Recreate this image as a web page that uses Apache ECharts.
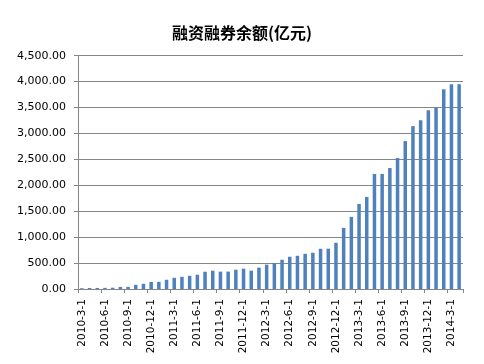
<!DOCTYPE html>
<html>
<head>
<meta charset="utf-8">
<script src="https://cdn.jsdelivr.net/npm/echarts@6/dist/echarts.min.js"></script>
<style>
html,body{margin:0;padding:0;background:#fff;}
#c{width:484px;height:364px;}
</style>
</head>
<body>
<div id="c"></div>
<script>
var titleText = '融资融券余额(亿元)';
var categories = [
  '2010-3-1','2010-4-1','2010-5-1','2010-6-1','2010-7-1','2010-8-1','2010-9-1','2010-10-1','2010-11-1','2010-12-1',
  '2011-1-1','2011-2-1','2011-3-1','2011-4-1','2011-5-1','2011-6-1','2011-7-1','2011-8-1','2011-9-1','2011-10-1','2011-11-1','2011-12-1',
  '2012-1-1','2012-2-1','2012-3-1','2012-4-1','2012-5-1','2012-6-1','2012-7-1','2012-8-1','2012-9-1','2012-10-1','2012-11-1','2012-12-1',
  '2013-1-1','2013-2-1','2013-3-1','2013-4-1','2013-5-1','2013-6-1','2013-7-1','2013-8-1','2013-9-1','2013-10-1','2013-11-1','2013-12-1',
  '2014-1-1','2014-2-1','2014-3-1','2014-4-1'
];
var balance = [
  15,20,20,22,25,40,42,80,100,135,
  138,178,216,235,255,275,333,353,335,336,372,392,
  354,412,470,497,564,622,641,679,699,776,778,891,
  1179,1391,1641,1776,2218,2220,2333,2526,2853,3141,3256,3449,
  3494,3853,3949,3950
];
var yMin = 0, yMax = 4500, yStep = 500;

var chart = echarts.init(document.getElementById('c'), null, {renderer:'canvas'});
var gray = '#868686';
chart.setOption({
  animation: false,
  title: {
    text: titleText,
    left: 'center',
    top: 20,
    textStyle: {fontFamily: 'Noto Sans CJK SC', fontSize: 16, fontWeight: 'bold', color: '#000'}
  },
  grid: {left: 78, right: 21, top: 55.7, bottom: 75, containLabel: false},
  xAxis: {
    type: 'category',
    data: categories,
    boundaryGap: true,
    axisLine: {lineStyle: {color: gray, width: 1}},
    axisTick: {show: true, interval: 2, length: 4, inside: false, lineStyle: {color: gray}},
    axisLabel: {interval: 2, rotate: 90, margin: 10, fontFamily: 'DejaVu Sans', fontSize: 10.5, color: '#000'},
    splitLine: {show: false}
  },
  yAxis: {
    type: 'value',
    min: yMin, max: yMax, interval: yStep,
    axisLine: {show: true, lineStyle: {color: gray, width: 1}},
    axisTick: {show: true, length: 4, lineStyle: {color: gray}},
    axisLabel: {
      margin: 12, fontFamily: 'DejaVu Sans', fontSize: 11, color: '#000',
      formatter: function(v){ return v.toLocaleString('en-US', {minimumFractionDigits:2, maximumFractionDigits:2}); }
    },
    splitLine: {show: true, lineStyle: {color: gray, width: 1}}
  },
  series: [{
    type: 'bar',
    data: balance,
    barWidth: 3.5,
    itemStyle: {color: '#4F81BD'}
  }]
});
</script>
</body>
</html>
